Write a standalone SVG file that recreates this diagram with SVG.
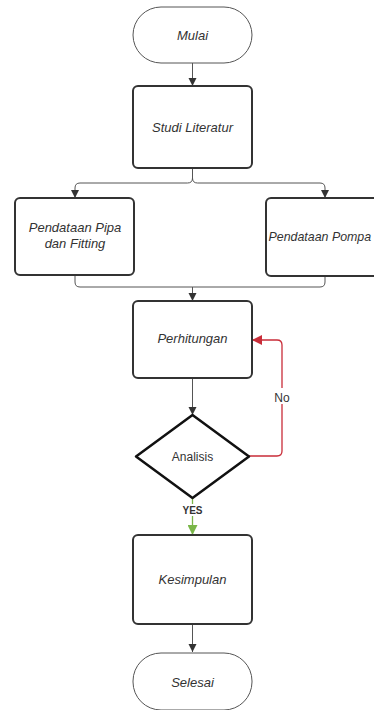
<svg xmlns="http://www.w3.org/2000/svg" width="374" height="710" viewBox="0 0 374 710">
<defs>
<marker id="ah" viewBox="0 0 10 10" refX="10" refY="5" markerWidth="8" markerHeight="10" markerUnits="userSpaceOnUse" orient="auto"><path d="M0,0 L10,5 L0,10 Z" fill="#333"/></marker>
<marker id="ahr" viewBox="0 0 10 10" refX="10" refY="5" markerWidth="11" markerHeight="10" markerUnits="userSpaceOnUse" orient="auto"><path d="M0,0 L10,5 L0,10 Z" fill="#c92d39"/></marker>
<marker id="ahg" viewBox="0 0 10 10" refX="10" refY="5" markerWidth="10" markerHeight="10" markerUnits="userSpaceOnUse" orient="auto"><path d="M0,0 L10,5 L0,10 Z" fill="#7ab648"/></marker>
<style>
.term{fill:#fff;stroke:#555;stroke-width:1}
.box{fill:#fff;stroke:#333;stroke-width:2}
.dia{fill:#fff;stroke:#111;stroke-width:2.5;stroke-linejoin:round}
.t{font-family:"Liberation Sans",Arial,sans-serif;font-size:13px;font-style:italic;fill:#333;text-anchor:middle}
.tn{font-family:"Liberation Sans",Arial,sans-serif;font-size:12px;fill:#333;text-anchor:middle}
.c{fill:none;stroke:#555;stroke-width:1}
.red{fill:none;stroke:#c92d39;stroke-width:1.3}
.grn{fill:none;stroke:#7ab648;stroke-width:1.3}
</style>
</defs>
<rect width="374" height="710" fill="#fff"/>
<g id="connectors">
<path class="c" d="M192.5,63 V86" marker-end="url(#ah)"/>
<path class="c" d="M192.5,168 V178 Q192.5,183 187.5,183 H80 Q75,183 75,188 V198" marker-end="url(#ah)"/>
<path class="c" d="M192.5,178 Q192.5,183 197.5,183 H320 Q325,183 325,188 V198" marker-end="url(#ah)"/>
<path class="c" d="M75,275 V282 Q75,287 80,287 H320 Q325,287 325,282 V276"/>
<path class="c" d="M192.5,287 V301" marker-end="url(#ah)"/>
<path class="c" d="M192.5,378 V415" marker-end="url(#ah)"/>
<path class="red" d="M249,456 H277 Q282,456 282,451 V345 Q282,340 277,340 H252" marker-end="url(#ahr)"/>
<path class="grn" d="M192.5,498 V535" marker-end="url(#ahg)"/>
<path class="c" d="M192.5,624 V652" marker-end="url(#ah)"/>
<rect x="272" y="388" width="20" height="16" fill="#fff"/>
<text class="tn" x="282" y="402">No</text>
<rect x="179" y="504" width="27" height="12" fill="#fff"/>
<text x="192.5" y="514" font-family="'Liberation Sans',Arial,sans-serif" font-size="10" font-weight="bold" fill="#333" text-anchor="middle">YES</text>
</g>
<g id="mulai">
<rect class="term" x="133" y="7" width="119" height="56" rx="28"/>
<text class="t" x="192.5" y="40">Mulai</text>
</g>
<g id="studi">
<rect class="box" x="133" y="86" width="119" height="82" rx="5"/>
<text class="t" x="192.5" y="132">Studi Literatur</text>
</g>
<g id="pipa">
<rect class="box" x="15" y="198" width="119" height="77" rx="5"/>
<text class="t" x="75" y="232">Pendataan Pipa</text>
<text class="t" x="75" y="248">dan Fitting</text>
</g>
<g id="pompa">
<rect class="box" x="266" y="198" width="118" height="78" rx="5"/>
<text class="t" x="268.5" y="241" style="text-anchor:start;font-size:12.4px">Pendataan Pompa</text>
</g>
<g id="perhitungan">
<rect class="box" x="133" y="301" width="119" height="77" rx="5"/>
<text class="t" x="192.5" y="343">Perhitungan</text>
</g>
<g id="analisis">
<path class="dia" d="M192.5,415 L249,456.5 L192.5,498 L136,456.5 Z"/>
<text class="tn" x="192.5" y="461">Analisis</text>
</g>
<g id="kesimpulan">
<rect class="box" x="133" y="535" width="119" height="89" rx="5"/>
<text class="t" x="192.5" y="584">Kesimpulan</text>
</g>
<g id="selesai">
<rect class="term" x="133" y="653" width="119" height="57" rx="28"/>
<text class="t" x="192.5" y="687">Selesai</text>
</g>
</svg>
